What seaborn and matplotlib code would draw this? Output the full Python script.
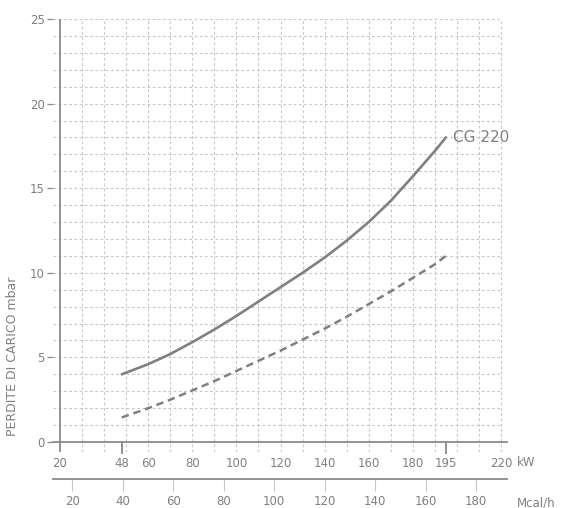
import numpy as np
import pandas as pd
import seaborn as sns
import matplotlib.pyplot as plt

# potenza (kW) e perdite di carico (mbar)
kw = [48, 60, 70, 80, 90, 100, 110, 120, 130, 140, 150, 160, 170, 180, 190, 195]
dp_solid = [4.0, 4.6, 5.2, 5.9, 6.65, 7.45, 8.3, 9.15, 10.0, 10.9, 11.9, 13.0, 14.25, 15.7, 17.2, 18.0]
dp_dashed = [1.45, 2.0, 2.5, 3.05, 3.6, 4.2, 4.8, 5.4, 6.05, 6.7, 7.4, 8.15, 8.9, 9.7, 10.5, 11.0]
curve_label = "CG 220"

kw_ticks = [20, 48, 60, 80, 100, 120, 140, 160, 180, 195, 220]
kw_marked = [48, 195]
mcal_ticks = [20, 40, 60, 80, 100, 120, 140, 160, 180]
y_ticks = [0, 5, 10, 15, 20, 25]

GRAY = "#808080"
AXIS = "#8a8a8a"
GRID = "#c8c8c8"

sns.set_theme(style="white")
plt.rcParams["font.family"] = ["DejaVu Sans"]
plt.rcParams["text.color"] = GRAY

W, H = 563, 508
fig = plt.figure(figsize=(W / 100, H / 100), dpi=100)
# pixel box of the plotting area: x 53..507, y 19..452
ax = fig.add_axes([53 / W, (H - 452) / H, 454 / W, 433 / H])

x_lo, x_hi = 20 - 7 / 2.2, 20 + 446 / 2.2
y_lo, y_hi = -0.59, 25.0
ax.set_xlim(x_lo, x_hi)
ax.set_ylim(y_lo, y_hi)

# griglia tratteggiata
grid_kw = dict(color=GRID, lw=0.8, linestyle=(0, (2.5, 2.2)), zorder=0)
ax.hlines(np.arange(1, 26), x_lo, 220, **grid_kw)
ax.vlines(np.arange(30, 221, 10), y_lo, 25, **grid_kw)

# asse verticale
ax.axvline(20, ymin=0, ymax=1, color=AXIS, lw=1.3, zorder=2)

df = pd.DataFrame({"kW": kw, "solid": dp_solid, "dashed": dp_dashed})
sns.lineplot(data=df, x="kW", y="solid", color=GRAY, lw=1.9, ax=ax, zorder=3)
sns.lineplot(data=df, x="kW", y="dashed", color=GRAY, lw=1.8, ax=ax, zorder=3)
ax.lines[-1].set_dashes((3.0, 1.9))

ax.annotate(curve_label, xy=(kw[-1], dp_solid[-1]), xytext=(5, 0),
            textcoords="offset points", va="center", ha="left",
            fontsize=11, color=GRAY)

for s in ["top", "right", "left"]:
    ax.spines[s].set_visible(False)
ax.spines["bottom"].set_position(("data", 0))
ax.spines["bottom"].set_color(AXIS)
ax.spines["bottom"].set_linewidth(1.3)

ax.set_yticks(y_ticks)
ax.tick_params(axis="y", length=4, width=0.9, color=AXIS, pad=2,
               labelsize=8.5, labelcolor=GRAY, left=True)
ax.set_xticks(kw_ticks)
ax.set_xticklabels([str(v) for v in kw_ticks])
ax.tick_params(axis="x", length=8.5, width=1.3, color=AXIS, pad=2.5,
               labelsize=8.5, labelcolor=GRAY, bottom=True)
for t, v in zip(ax.xaxis.get_major_ticks(), kw_ticks):
    if v not in kw_marked:
        t.tick1line.set_visible(False)

ax.set_xlabel("")
ax.set_ylabel("PERDITE DI CARICO mbar", fontsize=9, color=GRAY)
ax.yaxis.set_label_coords(-0.075, 0.222)

# secondo asse in Mcal/h (scala come disegnata sul grafico)
sec = ax.secondary_xaxis(-0.0624, functions=(lambda x: (np.asarray(x) - 2.6) / 1.145,
                                              lambda m: 2.6 + 1.145 * np.asarray(m)))
sec.set_xticks(mcal_ticks)
sec.spines["bottom"].set_color(AXIS)
sec.spines["bottom"].set_linewidth(1.3)
sec.tick_params(axis="x", length=8.5, width=0.8, color=GRID, pad=3,
                labelsize=8.5, labelcolor=GRAY)

fig.text(517 / W, 1 - 463 / H, "kW", fontsize=8.5, color=GRAY, va="center", ha="left")
fig.text(517 / W, 1 - 503 / H, "Mcal/h", fontsize=8.5, color=GRAY, va="center", ha="left")

fig.savefig("out.png", dpi=100)
